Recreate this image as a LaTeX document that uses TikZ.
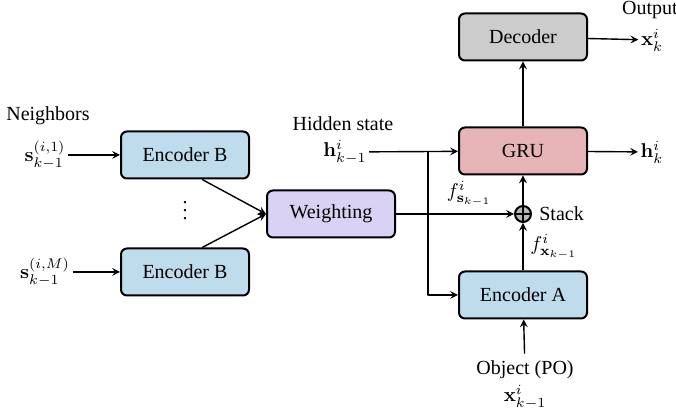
\documentclass[tikz,border=0pt]{standalone}
\usepackage[no-math]{fontspec}
\setmainfont{LiberationSerif}[Extension=.ttf, UprightFont=*-Regular, BoldFont=*-Bold, ItalicFont=*-Italic]
\usetikzlibrary{arrows}
\definecolor{encblue}{RGB}{190,220,235}
\definecolor{weightlila}{RGB}{217,210,245}
\definecolor{grupink}{RGB}{230,180,182}
\definecolor{decgray}{RGB}{204,204,204}
\tikzset{
  block/.style={draw, line width=1pt, rounded corners=3pt, minimum width=64pt, minimum height=23.5pt, inner sep=2pt},
  lbl/.style={inner sep=1pt}
}
\begin{document}
\begin{tikzpicture}[x=0.5pt, y=0.5pt, font=\rmfamily\normalsize, line join=round, >=stealth, line width=.7pt]
		\useasboundingbox (0,0) rectangle (676,417);
		% blocks
		\node[block, fill=encblue] (encB1) at (185,262) {Encoder B};
		\node[block, fill=encblue] (encB2) at (185,145) {Encoder B};
		\node[block, fill=weightlila] (weight) at (331,203) {Weighting};
		\node[block, fill=grupink] (gru) at (523,266) {GRU};
		\node[block, fill=decgray] (dec) at (523,380) {Decoder};
		\node[block, fill=encblue] (encA) at (523,122) {Encoder A};
		\node[draw, circle, fill=decgray!90!black, line width=1pt, inner sep=0pt, minimum size=8pt] (stack) at (523,203) {};
		\draw[line width=1pt] (stack.north)--(stack.south) (stack.west)--(stack.east);
		% labels
		\node (neigh) at (48,301) {Neighbors};
		\node[lbl] (sone) at (45,262) {$\mathbf{s}_{k-1}^{(i,1)}$};
		\node[lbl] (sM) at (45,145) {$\mathbf{s}_{k-1}^{(i,M)}$};
		\node (vd) at (185,212) {$\vdots$};
		\node (hidden) at (343,293) {Hidden state};
		\node[lbl] (hprev) at (345,265) {$\mathbf{h}_{k-1}^{i}$};
		\node[anchor=west] (stacklbl) at (532,203) {Stack};
		\node (output) at (650,407) {Output};
		\node[lbl] (xk) at (652,377) {$\mathbf{x}_{k}^{i}$};
		\node[lbl] (hk) at (652,265) {$\mathbf{h}_{k}^{i}$};
		\node (obj) at (525,47) {Object (PO)};
		\node[lbl] (xprev) at (525,20) {$\mathbf{x}_{k-1}^{i}$};
		\coordinate (jn) at (428,266);
		% connectors
		\draw[->] (sone) -- (encB1);
		\draw[->] (sM) -- (encB2);
		\draw[->] (encB1.-55) -- (weight.west);
		\draw[->] (encB2.55) -- (weight.west);
		\draw[->] (hprev) -- (gru);
		\draw[->] (jn) |- (encA);
		\draw[->] (weight) -- (stack) node[pos=.62, above] {$f_{\mathbf{s}_{k-1}}^{i}$};
		\draw[->] (encA) -- (stack) node[midway, right] {$f_{\mathbf{x}_{k-1}}^{i}$};
		\draw[->] (stack) -- (gru);
		\draw[->] (gru) -- (dec);
		\draw[->] (dec) -- (xk);
		\draw[->] (gru) -- (hk);
		\draw[->] (obj) -- (encA);
		\end{tikzpicture}
\end{document}
